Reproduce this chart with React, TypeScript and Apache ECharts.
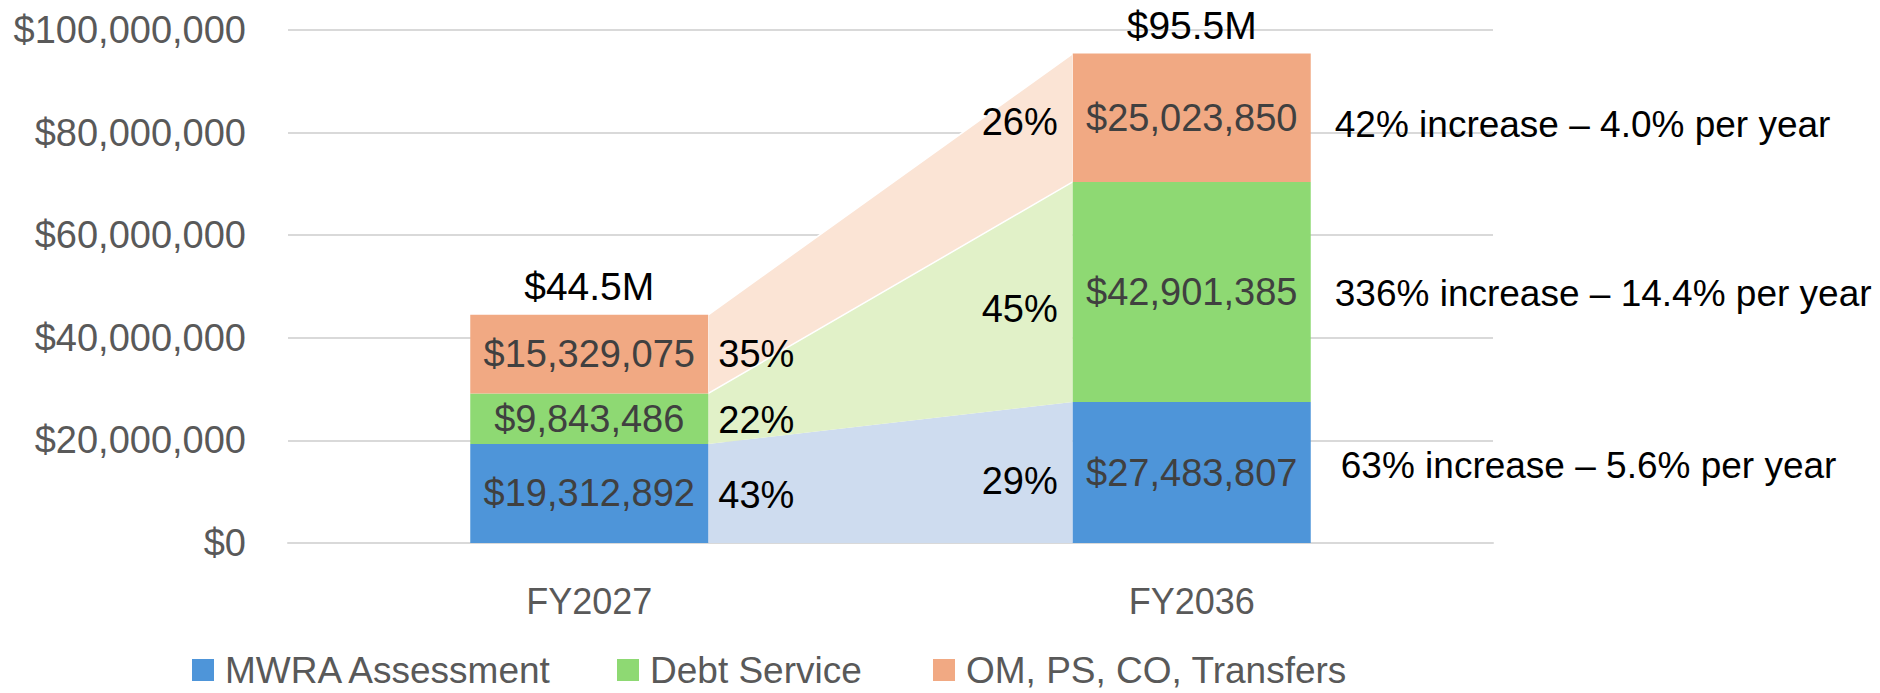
import React, { useEffect, useRef } from 'react';
import * as echarts from 'echarts';

// ---------- data ----------
const categories = ['FY2027', 'FY2036'];
const mwraAssessment = [19312892, 27483807];
const debtService = [9843486, 42901385];
const omPsCoTransfers = [15329075, 25023850];
const seriesNames = ['MWRA Assessment', 'Debt Service', 'OM, PS, CO, Transfers'];
const sharesFY2027 = ['43%', '22%', '35%'];
const sharesFY2036 = ['29%', '45%', '26%'];
const totalLabels = ['$44.5M', '$95.5M'];
const growthLabels = [
  '63% increase – 5.6% per year',
  '336% increase – 14.4% per year',
  '42% increase – 4.0% per year',
];
const yMin = 0;
const yMax = 100000000;
const yInterval = 20000000;

// ---------- style ----------
const FONT = 'Liberation Sans, Arial, sans-serif';
const barColors = ['#4E95D9', '#8ED973', '#F1A983'];
const lightColors = ['#CEDCEF', '#E1F1C8', '#FBE4D5'];
const BAR_RATIO = 0.395;
const legendLefts = [187, 612, 928];
const pctDy = [
  [2, 1, 0],
  [8, 17, 4],
];
const growthDx = [30, 24, 24];
const growthDy = [-7, 2, 7];

const segments = [mwraAssessment, debtService, omPsCoTransfers];
const bases = segments.map((_, s) =>
  categories.map((__, c) => segments.slice(0, s).reduce((acc, arr) => acc + arr[c], 0))
);
const totals = categories.map((_, c) => segments.reduce((acc, arr) => acc + arr[c], 0));

const connectorData = segments.map((arr, s) => [
  0,
  bases[s][0],
  bases[s][0] + arr[0],
  bases[s][1],
  bases[s][1] + arr[1],
]);

const pctItems: { c: number; s: number; mid: number }[] = [];
categories.forEach((_, c) => {
  segments.forEach((arr, s) => {
    pctItems.push({ c, s, mid: bases[s][c] + arr[c] / 2 });
  });
});

const fmtMoney = (v: number) => '$' + Math.round(v).toLocaleString('en-US');

function barHalf(api: any) {
  return (api.size([1, 0])[0] * BAR_RATIO) / 2;
}

export default function App() {
  const ref = useRef<HTMLDivElement>(null);

  useEffect(() => {
    if (!ref.current) return;
    const chart = echarts.init(ref.current, undefined, { renderer: 'svg' });

    const barSeries = segments.map((arr, s) => ({
      name: seriesNames[s],
      type: 'bar',
      stack: 'total',
      barWidth: BAR_RATIO * 100 + '%',
      data: arr,
      z: 3,
      itemStyle: { color: barColors[s] },
      label: {
        show: true,
        position: 'inside',
        formatter: (p: any) => fmtMoney(p.value),
        color: '#404040',
        fontSize: 38,
        fontFamily: FONT,
      },
    }));

    const legends = seriesNames.map((n, i) => ({
      data: [n],
      left: legendLefts[i],
      top: 646,
      icon: 'rect',
      itemWidth: 22,
      itemHeight: 22,
      selectedMode: false,
      textStyle: {
        fontSize: 37,
        lineHeight: 38,
        color: '#595959',
        fontFamily: FONT,
        padding: [0, 0, 0, 6],
      },
    }));

    const option: any = {
      animation: false,
      backgroundColor: '#ffffff',
      grid: { left: 288, right: 387, top: 30, bottom: 150, outerBoundsMode: 'none' },
      legend: legends,
      xAxis: {
        type: 'category',
        data: categories,
        axisTick: { show: false },
        axisLine: { show: true, lineStyle: { color: '#D9D9D9', width: 2 } },
        axisLabel: { color: '#595959', fontSize: 36, fontFamily: FONT, margin: 40 },
      },
      yAxis: {
        type: 'value',
        min: yMin,
        max: yMax,
        interval: yInterval,
        axisLine: { show: false },
        axisTick: { show: false },
        splitLine: { lineStyle: { color: '#D9D9D9', width: 2 } },
        axisLabel: {
          color: '#595959',
          fontSize: 38,
          fontFamily: FONT,
          margin: 42,
          formatter: (v: number) => fmtMoney(v),
        },
      },
      series: [
        {
          type: 'custom',
          name: 'connectors',
          z: 1,
          silent: true,
          encode: { x: 0, y: [1, 2, 3, 4] },
          data: connectorData,
          renderItem: (params: any, api: any) => {
            const half = barHalf(api);
            const ls = api.coord([0, api.value(1)]);
            const us = api.coord([0, api.value(2)]);
            const le = api.coord([1, api.value(3)]);
            const ue = api.coord([1, api.value(4)]);
            const i = params.dataIndex;
            return {
              type: 'polygon',
              shape: {
                points: [
                  [ls[0] + half, ls[1]],
                  [us[0] + half, us[1]],
                  [ue[0] - half, ue[1]],
                  [le[0] - half, le[1]],
                ],
              },
              style: {
                fill: lightColors[i],
                stroke: i === 2 ? '#ffffff' : null,
                lineWidth: i === 2 ? 1.5 : 0,
              },
            };
          },
        },
        ...barSeries,
        {
          type: 'custom',
          name: 'shares',
          z: 5,
          silent: true,
          data: pctItems.map((d) => [d.c, d.mid]),
          renderItem: (params: any, api: any) => {
            const d = pctItems[params.dataIndex];
            const half = barHalf(api);
            const p = api.coord([d.c, d.mid]);
            const text = (d.c === 0 ? sharesFY2027 : sharesFY2036)[d.s];
            return {
              type: 'text',
              x: d.c === 0 ? p[0] + half + 10 : p[0] - half - 15,
              y: p[1] + pctDy[d.c][d.s],
              style: {
                text,
                fill: '#000000',
                fontSize: 38,
                fontFamily: FONT,
                align: d.c === 0 ? 'left' : 'right',
                verticalAlign: 'middle',
              },
            };
          },
        },
        {
          type: 'custom',
          name: 'totals',
          z: 5,
          silent: true,
          data: totals.map((t, c) => [c, t]),
          renderItem: (params: any, api: any) => {
            const p = api.coord([api.value(0), api.value(1)]);
            return {
              type: 'text',
              x: p[0],
              y: p[1] - 28,
              style: {
                text: totalLabels[params.dataIndex],
                fill: '#000000',
                fontSize: 39,
                fontFamily: FONT,
                align: 'center',
                verticalAlign: 'middle',
              },
            };
          },
        },
        {
          type: 'custom',
          name: 'growth',
          z: 5,
          silent: true,
          data: segments.map((arr, s) => [1, bases[s][1] + arr[1] / 2]),
          renderItem: (params: any, api: any) => {
            const s = params.dataIndex;
            const half = barHalf(api);
            const p = api.coord([api.value(0), api.value(1)]);
            return {
              type: 'text',
              x: p[0] + half + growthDx[s],
              y: p[1] + growthDy[s],
              style: {
                text: growthLabels[s],
                fill: '#000000',
                fontSize: 37,
                fontFamily: FONT,
                align: 'left',
                verticalAlign: 'middle',
              },
            };
          },
        },
      ],
    };

    chart.setOption(option);
    return () => chart.dispose();
  }, []);

  return (
    <div
      ref={ref}
      style={{ position: 'fixed', left: 0, top: 0, width: 1880, height: 693, background: '#fff' }}
    />
  );
}
